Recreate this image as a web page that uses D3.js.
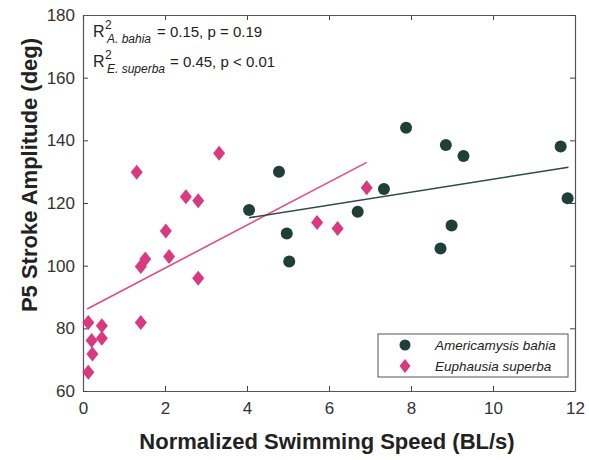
<!DOCTYPE html>
<html>
<head>
<meta charset="utf-8">
<script src="https://cdn.jsdelivr.net/npm/d3@7"></script>
<style>
body { margin: 0; background: #fff; }
svg { display: block; font-family: "Liberation Sans", Arial, sans-serif; }
</style>
</head>
<body>
<svg id="chart" width="589" height="460"></svg>
<script>
// Data
const bahiaSpeed = [4.05, 4.78, 4.97, 5.03, 6.70, 7.34, 7.88, 8.85, 9.28, 8.99, 8.72, 11.65, 11.82];
const bahiaAmp   = [117.8, 130, 110.3, 101.3, 117.2, 124.5, 144, 138.5, 135, 112.8, 105.5, 138, 121.5];
const superbaSpeed = [1.31, 3.32, 2.51, 2.81, 2.02, 1.52, 1.41, 2.10, 2.81, 1.41, 0.13, 0.46, 0.21, 0.46, 0.23, 0.13, 5.71, 6.21, 6.92];
const superbaAmp   = [129.8, 135.9, 122, 120.7, 111.1, 102.1, 99.7, 102.9, 96, 81.9, 81.9, 80.8, 76.1, 76.8, 71.8, 66, 113.8, 111.9, 124.9];
const bahiaFit = { x0: 4.05, x1: 11.84, intercept: 106.9, slope: 2.07 };
const superbaFit = { x0: 0.10, x1: 6.92, intercept: 85.5, slope: 6.86 };
const xTicks = [0, 2, 4, 6, 8, 10, 12];
const yTicks = [60, 80, 100, 120, 140, 160, 180];
const seriesNames = ["Americamysis bahia", "Euphausia superba"];

const colBahia = "#1f3f37";
const colSuperba = "#d8397f";
const colBahiaLine = "#2f4b45";
const colSuperbaLine = "#e14b85";

const svg = d3.select("#chart");
const L = 83, R = 575, T = 15, B = 391;
const x = d3.scaleLinear().domain([0, 12]).range([L, R]);
const y = d3.scaleLinear().domain([60, 180]).range([B, T]);

const frameCol = "#555";
const tickCol = "#444";
const gB = svg.append("g").attr("transform", `translate(0,${B})`)
  .call(d3.axisBottom(x).tickValues(xTicks).tickSizeInner(-5).tickSizeOuter(0).tickPadding(11));
const gL = svg.append("g").attr("transform", `translate(${L},0)`)
  .call(d3.axisLeft(y).tickValues(yTicks).tickSizeInner(-5).tickSizeOuter(0).tickPadding(8));
const gT = svg.append("g").attr("transform", `translate(0,${T})`)
  .call(d3.axisTop(x).tickValues(xTicks).tickSizeInner(-5).tickSizeOuter(0).tickFormat(""));
const gR = svg.append("g").attr("transform", `translate(${R},0)`)
  .call(d3.axisRight(y).tickValues(yTicks).tickSizeInner(-5).tickSizeOuter(0).tickFormat(""));
[gB, gL, gT, gR].forEach(g => {
  g.select(".domain").attr("stroke", frameCol).attr("stroke-width", 1.2);
  g.selectAll(".tick line").attr("stroke", tickCol);
  g.selectAll(".tick text").attr("fill", "#333").style("font-size", "17px").style("font-family", "'Liberation Sans', Arial, sans-serif");
});
gB.selectAll(".tick text").attr("dy", "0.71em");

// Fit lines
svg.append("line")
  .attr("x1", x(superbaFit.x0)).attr("y1", y(superbaFit.intercept + superbaFit.slope * superbaFit.x0))
  .attr("x2", x(superbaFit.x1)).attr("y2", y(superbaFit.intercept + superbaFit.slope * superbaFit.x1))
  .attr("stroke", colSuperbaLine).attr("stroke-width", 1.6);
svg.append("line")
  .attr("x1", x(bahiaFit.x0)).attr("y1", y(bahiaFit.intercept + bahiaFit.slope * bahiaFit.x0))
  .attr("x2", x(bahiaFit.x1)).attr("y2", y(bahiaFit.intercept + bahiaFit.slope * bahiaFit.x1))
  .attr("stroke", colBahiaLine).attr("stroke-width", 1.6);

// Points
function diamondPath(hw, hh) { return `M0,${-hh}L${hw},0L0,${hh}L${-hw},0Z`; }
svg.append("g").selectAll("path").data(superbaSpeed.map((s, i) => [s, superbaAmp[i]]))
  .join("path")
  .attr("d", diamondPath(6, 7.5))
  .attr("transform", d => `translate(${x(d[0])},${y(d[1])})`)
  .attr("fill", colSuperba);
svg.append("g").selectAll("circle").data(bahiaSpeed.map((s, i) => [s, bahiaAmp[i]]))
  .join("circle")
  .attr("cx", d => x(d[0])).attr("cy", d => y(d[1])).attr("r", 6)
  .attr("fill", colBahia);

// Annotation
function rText(yb, sub, rest, restX) {
  svg.append("text").attr("x", 93).attr("y", yb).attr("fill", "#222").style("font-size", "16px").text("R");
  svg.append("text").attr("x", 105).attr("y", yb - 8).attr("fill", "#222").style("font-size", "12px").text("2");
  svg.append("text").attr("x", 107).attr("y", yb + 6).attr("fill", "#222").style("font-size", "12px").style("font-style", "italic").text(sub);
  svg.append("text").attr("x", restX).attr("y", yb).attr("fill", "#222").style("font-size", "15px").text(rest);
}
rText(37, "A. bahia", "= 0.15, p = 0.19", 157);
rText(67, "E. superba", "= 0.45, p < 0.01", 170);

// Legend
const lg = svg.append("g");
lg.append("rect").attr("x", 378).attr("y", 334).attr("width", 190).attr("height", 43)
  .attr("fill", "#fff").attr("stroke", "#555").attr("stroke-width", 1);
lg.append("circle").attr("cx", 405).attr("cy", 345).attr("r", 5.5).attr("fill", colBahia);
lg.append("path").attr("d", diamondPath(5.5, 7))
  .attr("transform", "translate(405,366)").attr("fill", colSuperba);
seriesNames.forEach((n, i) => {
  lg.append("text").attr("x", 435).attr("y", 350 + i * 21).attr("fill", "#222")
    .style("font-size", "13.5px").style("font-style", "italic").text(n);
});

// Axis titles
svg.append("text").attr("x", 327).attr("y", 449).attr("text-anchor", "middle")
  .attr("fill", "#222").style("font-size", "22px").style("font-weight", "bold")
  .text("Normalized Swimming Speed (BL/s)");
svg.append("text").attr("transform", "translate(37,175) rotate(-90)").attr("text-anchor", "middle")
  .attr("fill", "#222").style("font-size", "22px").style("font-weight", "bold")
  .text("P5 Stroke Amplitude (deg)");
</script>
</body>
</html>
